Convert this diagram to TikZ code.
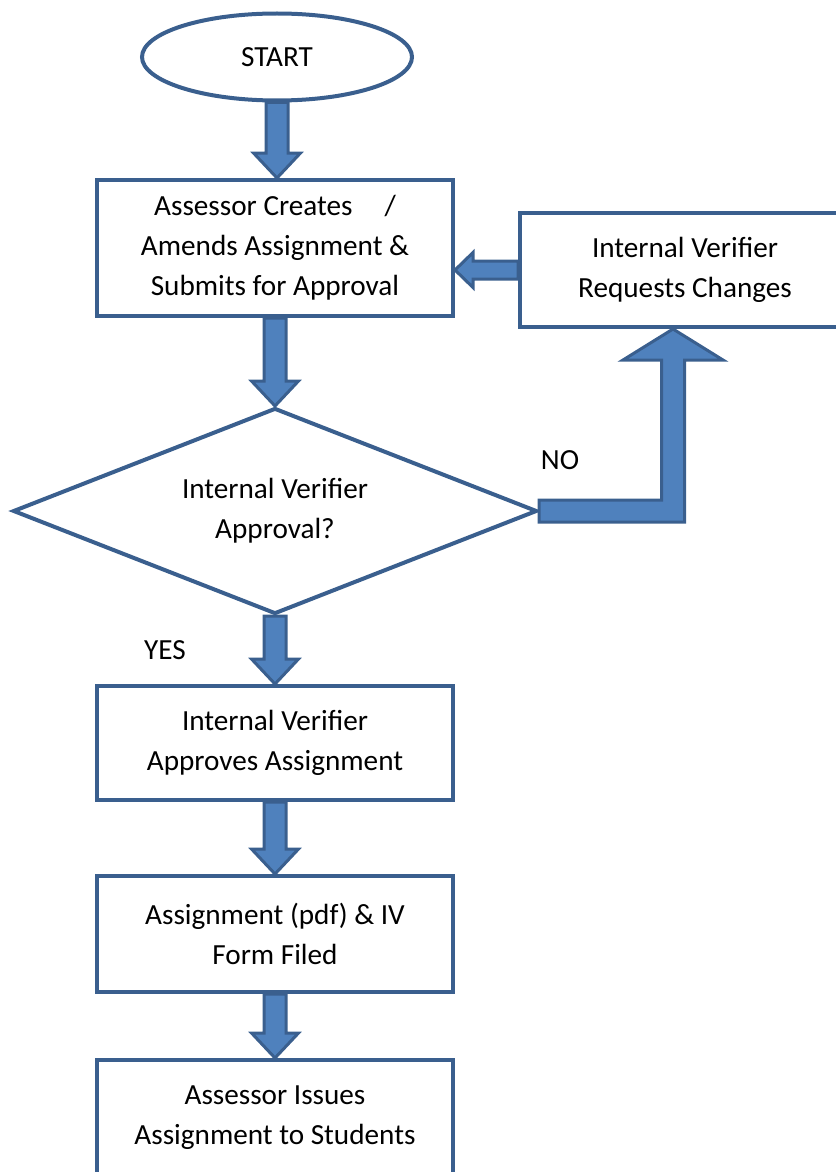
\documentclass[tikz,border=0pt]{standalone}
\usepackage{fontspec}
\setmainfont{Carlito}
\usetikzlibrary{shapes.geometric,calc}

\definecolor{boxline}{RGB}{58,95,142}
\definecolor{arrowfill}{RGB}{79,129,189}

\tikzset{
    flowbox/.style={draw=boxline, line width=2pt, rectangle, minimum width=178pt, align=center, inner sep=0pt},
    blockarrow/.style={draw=boxline, fill=arrowfill, line width=1.5pt, line join=miter},
}

% block arrow pointing down: from, to
\newcommand{\blockdown}[2]{%
    \draw[blockarrow] let \p1=(#1), \p2=(#2) in
        (\x1-5.5pt,\y1) -- (\x1-5.5pt,\y2+12.5pt) -- (\x1-11.75pt,\y2+12.5pt) -- (\x1,\y2)
        -- (\x1+11.75pt,\y2+12.5pt) -- (\x1+5.5pt,\y2+12.5pt) -- (\x1+5.5pt,\y1) -- cycle;}

\begin{document}
\begin{tikzpicture}[x=0.5pt, y=-0.5pt, every node/.style={font=\fontsize{14.6}{20}\selectfont}]
    \useasboundingbox (0,0) rectangle (835,1172);

    % Start
    \node[ellipse, draw=boxline, line width=2pt, minimum width=135pt, minimum height=43.5pt, inner sep=0pt] (start) at (277,57) {START};

    % Steps
    \node[flowbox, minimum height=68pt] (create) at (275,248) {Assessor Creates\hspace{16pt}/\\Amends Assignment \&\\Submits for Approval};
    \node[flowbox, minimum width=165pt, minimum height=57pt] (changes) at (685,270) {Internal Verifier\\Requests Changes};
    \node[diamond, aspect=2.5, draw=boxline, line width=2pt, minimum width=262pt, minimum height=103pt, inner sep=0pt, align=center] (approval) at (275,511) {Internal Verifier\\Approval?};
    \node[flowbox, minimum height=57pt] (approves) at (275,743) {Internal Verifier\\Approves Assignment};
    \node[flowbox, minimum height=58pt] (filed) at (275,934) {Assignment (pdf) \& IV\\Form Filed};
    \node[flowbox, minimum height=58pt] (issues) at (275,1118) {Assessor Issues\\Assignment to Students};

    % Labels
    \node (no) at (560,460) {NO};
    \node (yes) at (165,650) {YES};

    % Main flow
    \blockdown{start.south}{create.north}
    \blockdown{create.south}{approval.north}
    \blockdown{approval.south}{approves.north}
    \blockdown{approves.south}{filed.north}
    \blockdown{filed.south}{issues.north}

    % Changes back to assessor
    \draw[blockarrow] let \p1=(changes.west), \p2=(create.east) in
        (\x1,\y1+4.5pt) -- (\x2+9pt,\y1+4.5pt) -- (\x2+9pt,\y1+8.75pt) -- (\x2,\y1)
        -- (\x2+9pt,\y1-8.75pt) -- (\x2+9pt,\y1-4.5pt) -- (\x1,\y1-4.5pt) -- cycle;

    % NO branch
    \coordinate (noturn) at ([xshift=-6pt]changes.south |- approval.east);
    \draw[blockarrow] let \p1=(approval.east), \p2=(noturn), \p3=(changes.south) in
        (\x1,\y1+5.5pt) -- (\x2-5.75pt,\y1+5.5pt) -- (\x2-5.75pt,\y3-15.5pt) -- (\x2-25pt,\y3-15.5pt)
        -- (\x2,\y3) -- (\x2+25pt,\y3-15.5pt) -- (\x2+5.75pt,\y3-15.5pt) -- (\x2+5.75pt,\y1-5.5pt)
        -- (\x1,\y1-5.5pt) -- cycle;
\end{tikzpicture}
\end{document}
